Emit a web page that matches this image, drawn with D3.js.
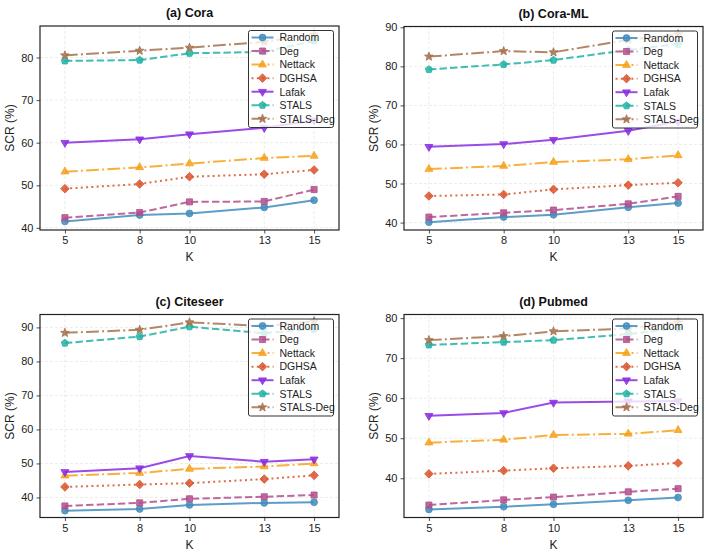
<!DOCTYPE html>
<html>
<head>
<meta charset="utf-8">
<script src="https://cdn.jsdelivr.net/npm/d3@7"></script>
<style>
  html, body { margin: 0; padding: 0; background: #fff; }
  svg { display: block; font-family: "Liberation Sans", Arial, sans-serif; }
</style>
</head>
<body>
<svg id="chart" width="713" height="554"></svg>
<script>
const kValues = [5, 8, 10, 13, 15];
const methods = ["Random", "Deg", "Nettack", "DGHSA", "Lafak", "STALS", "STALS-Deg"];
const panelTitles = ["(a) Cora", "(b) Cora-ML", "(c) Citeseer", "(d) Pubmed"];

// Cora
const coraRandom   = [41.5, 43.0, 43.4, 44.8, 46.5];
const coraDeg      = [42.4, 43.6, 46.1, 46.2, 49.0];
const coraNettack  = [53.2, 54.2, 55.1, 56.4, 56.9];
const coraDGHSA    = [49.2, 50.3, 52.0, 52.6, 53.6];
const coraLafak    = [60.0, 60.8, 62.0, 63.5, 65.2];
const coraSTALS    = [79.2, 79.4, 81.0, 81.3, 83.9];
const coraSTALSDeg = [80.5, 81.6, 82.3, 83.7, 85.4];

// Cora-ML
const coramlRandom   = [40.1, 41.4, 42.0, 43.9, 45.0];
const coramlDeg      = [41.4, 42.5, 43.2, 44.8, 46.7];
const coramlNettack  = [53.7, 54.5, 55.5, 56.2, 57.2];
const coramlDGHSA    = [46.8, 47.2, 48.5, 49.6, 50.2];
const coramlLafak    = [59.4, 60.1, 61.2, 63.5, 65.9];
const coramlSTALS    = [79.2, 80.5, 81.6, 84.2, 85.7];
const coramlSTALSDeg = [82.5, 83.9, 83.6, 86.8, 88.2];

// Citeseer
const citeseerRandom   = [36.1, 36.6, 37.8, 38.4, 38.6];
const citeseerDeg      = [37.5, 38.4, 39.6, 40.2, 40.7];
const citeseerNettack  = [46.4, 47.2, 48.4, 49.1, 50.0];
const citeseerDGHSA    = [43.1, 43.8, 44.2, 45.4, 46.5];
const citeseerLafak    = [47.5, 48.6, 52.2, 50.5, 51.2];
const citeseerSTALS    = [85.4, 87.3, 90.2, 88.3, 89.5];
const citeseerSTALSDeg = [88.4, 89.3, 91.5, 90.4, 91.8];

// Pubmed
const pubmedRandom   = [32.2, 32.9, 33.5, 34.5, 35.2];
const pubmedDeg      = [33.3, 34.6, 35.3, 36.6, 37.4];
const pubmedNettack  = [48.9, 49.6, 50.8, 51.1, 52.0];
const pubmedDGHSA    = [41.1, 41.9, 42.5, 43.1, 43.8];
const pubmedLafak    = [55.6, 56.3, 58.9, 59.2, 59.3];
const pubmedSTALS    = [73.3, 74.0, 74.5, 76.0, 77.5];
const pubmedSTALSDeg = [74.5, 75.5, 76.7, 77.4, 78.9];

const coraTicks = [40, 50, 60, 70, 80];
const coramlTicks = [40, 50, 60, 70, 80, 90];
const citeseerTicks = [40, 50, 60, 70, 80, 90];
const pubmedTicks = [40, 50, 60, 70, 80];

const panelData = [
  [coraRandom, coraDeg, coraNettack, coraDGHSA, coraLafak, coraSTALS, coraSTALSDeg],
  [coramlRandom, coramlDeg, coramlNettack, coramlDGHSA, coramlLafak, coramlSTALS, coramlSTALSDeg],
  [citeseerRandom, citeseerDeg, citeseerNettack, citeseerDGHSA, citeseerLafak, citeseerSTALS, citeseerSTALSDeg],
  [pubmedRandom, pubmedDeg, pubmedNettack, pubmedDGHSA, pubmedLafak, pubmedSTALS, pubmedSTALSDeg]
];
const panelTicks = [coraTicks, coramlTicks, citeseerTicks, pubmedTicks];

// styles
const colors = ["#3f8dbd", "#b24f8c", "#f7a11a", "#d9542c", "#8a2be2", "#20b2a3", "#a5714d"];
const dashes = [null, "7.4,3.2", "12.8,3.2,2,3.2", "2,3.3", null, "7.4,3.2", "12.8,3.2,2,3.2"];

function polygonSymbol(n, startAngle) {
  return {
    draw(ctx, r) {
      for (let i = 0; i < n; i++) {
        const a = startAngle + i * 2 * Math.PI / n;
        const x = r * Math.cos(a), y = r * Math.sin(a);
        if (i === 0) ctx.moveTo(x, y); else ctx.lineTo(x, y);
      }
      ctx.closePath();
    }
  };
}
const starSym = {
  draw(ctx, r) {
    const ri = r * 0.42;
    for (let i = 0; i < 10; i++) {
      const a = -Math.PI / 2 + i * Math.PI / 5;
      const rr = i % 2 === 0 ? r : ri;
      const x = rr * Math.cos(a), y = rr * Math.sin(a);
      if (i === 0) ctx.moveTo(x, y); else ctx.lineTo(x, y);
    }
    ctx.closePath();
  }
};
// symbol + "radius" (size passed to draw)
const symbols = [
  { t: d3.symbolCircle, s: 36 },
  { t: polygonSymbol(4, Math.PI / 4), s: 4.3 },
  { t: polygonSymbol(3, -Math.PI / 2), s: 4.6 },
  { t: polygonSymbol(4, 0), s: 4.3 },
  { t: polygonSymbol(3, Math.PI / 2), s: 4.6 },
  { t: polygonSymbol(5, -Math.PI / 2), s: 3.8 },
  { t: starSym, s: 4.6 }
];
function symPath(i, cx, cy) {
  const sym = symbols[i];
  const path = d3.path();
  if (sym.t === d3.symbolCircle) return { d: d3.symbol(d3.symbolCircle, sym.s)(), transform: `translate(${cx},${cy})` };
  sym.t.draw(path, sym.s);
  return { d: path.toString(), transform: `translate(${cx},${cy})` };
}

const svg = d3.select("#chart");
const panels = [
  { left: 40, right: 339, top: 26, bottom: 230 },
  { left: 404, right: 703, top: 26.5, bottom: 230 },
  { left: 40, right: 339, top: 314.5, bottom: 517.5 },
  { left: 404, right: 703, top: 314.5, bottom: 517.5 }
];

panels.forEach((p, pi) => {
  const data = panelData[pi];
  const all = data.flat();
  const x = d3.scaleLinear().domain([4, 16]).range([p.left, p.right]);
  const y = d3.scaleLinear().domain([d3.min(all) - 2, d3.max(all) + 2]).range([p.bottom, p.top]);
  const g = svg.append("g");

  // grid
  g.append("g").selectAll("line").data(kValues).join("line")
    .attr("x1", d => x(d)).attr("x2", d => x(d))
    .attr("y1", p.top).attr("y2", p.bottom)
    .attr("stroke", "#b0b0b0").attr("stroke-opacity", 0.3)
    .attr("stroke-dasharray", "3,2").attr("stroke-width", 0.8);
  g.append("g").selectAll("line").data(panelTicks[pi]).join("line")
    .attr("x1", p.left).attr("x2", p.right)
    .attr("y1", d => y(d)).attr("y2", d => y(d))
    .attr("stroke", "#b0b0b0").attr("stroke-opacity", 0.3)
    .attr("stroke-dasharray", "3,2").attr("stroke-width", 0.8);

  // axes
  const xAxis = d3.axisBottom(x).tickValues(kValues).tickSize(3.5).tickPadding(3);
  const yAxis = d3.axisLeft(y).tickValues(panelTicks[pi]).tickSize(3.5).tickPadding(3);
  const gx = g.append("g").attr("transform", `translate(0,${p.bottom})`).call(xAxis);
  const gy = g.append("g").attr("transform", `translate(${p.left},0)`).call(yAxis);
  [gx, gy].forEach(a => {
    a.select(".domain").remove();
    a.selectAll("text").attr("font-size", 11).attr("fill", "#222").attr("font-family", "Liberation Sans, Arial, sans-serif");
    a.selectAll("line").attr("stroke", "#222").attr("stroke-width", 0.8);
  });

  // clip
  const clipId = "clip" + pi;
  svg.append("clipPath").attr("id", clipId).append("rect")
    .attr("x", p.left).attr("y", p.top).attr("width", p.right - p.left).attr("height", p.bottom - p.top);
  const plot = g.append("g").attr("clip-path", `url(#${clipId})`);

  const line = d3.line().x((d, i) => x(kValues[i])).y(d => y(d));
  data.forEach((vals, si) => {
    plot.append("path").attr("d", line(vals))
      .attr("fill", "none").attr("stroke", colors[si]).attr("stroke-width", 2)
      .attr("stroke-opacity", 0.85)
      .attr("stroke-dasharray", dashes[si]);
    vals.forEach((v, i) => {
      const s = symPath(si, x(kValues[i]), y(v));
      plot.append("path").attr("d", s.d).attr("transform", s.transform)
        .attr("fill", colors[si]).attr("fill-opacity", 0.85)
        .attr("stroke", colors[si]).attr("stroke-width", 0.8);
    });
  });

  // frame
  g.append("rect").attr("x", p.left).attr("y", p.top)
    .attr("width", p.right - p.left).attr("height", p.bottom - p.top)
    .attr("fill", "none").attr("stroke", "#222").attr("stroke-width", 1.2);

  // title
  g.append("text").attr("x", (p.left + p.right) / 2).attr("y", p.top - 9)
    .attr("text-anchor", "middle").attr("font-size", 12.5).attr("font-weight", "bold")
    .attr("fill", "#111").text(panelTitles[pi]);
  // axis labels
  g.append("text").attr("x", (p.left + p.right) / 2).attr("y", p.bottom + 31)
    .attr("text-anchor", "middle").attr("font-size", 12).attr("fill", "#222").text("K");
  g.append("text").attr("transform", `translate(${p.left - 26},${(p.top + p.bottom) / 2}) rotate(-90)`)
    .attr("text-anchor", "middle").attr("font-size", 12).attr("fill", "#222").text("SCR (%)");

  // legend
  const lw = 85, lh = 97;
  const lx = p.right - 5.5 - lw, ly = p.top + 4.5;
  const lg = g.append("g");
  lg.append("rect").attr("x", lx).attr("y", ly).attr("width", lw).attr("height", lh)
    .attr("rx", 2).attr("fill", "#fff").attr("fill-opacity", 0.8)
    .attr("stroke", "#333").attr("stroke-width", 1);
  methods.forEach((m, si) => {
    const cy = ly + 7 + si * 13.55;
    lg.append("line").attr("x1", lx + 3).attr("x2", lx + 25).attr("y1", cy).attr("y2", cy)
      .attr("stroke", colors[si]).attr("stroke-width", 2).attr("stroke-opacity", 0.85)
      .attr("stroke-dasharray", dashes[si]);
    const s = symPath(si, lx + 14, cy);
    lg.append("path").attr("d", s.d).attr("transform", s.transform)
      .attr("fill", colors[si]).attr("fill-opacity", 0.85)
      .attr("stroke", colors[si]).attr("stroke-width", 0.8);
    lg.append("text").attr("x", lx + 31).attr("y", cy + 3.8)
      .attr("font-size", 10.5).attr("fill", "#222").text(m);
  });
});
</script>
</body>
</html>
